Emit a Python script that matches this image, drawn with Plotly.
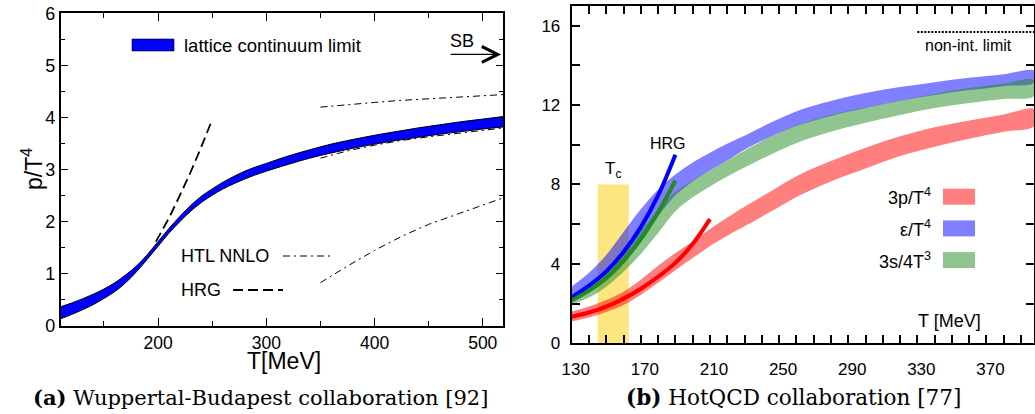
import plotly.graph_objects as go

W, H = 1035, 414

# ---------------- Panel (a): Wuppertal-Budapest ----------------
WB_T = [110, 120, 130, 140, 150, 160, 170, 180, 190, 200, 210, 220, 230, 240, 250,
        260, 270, 280, 290, 300, 320, 340, 360, 380, 400, 420, 440, 460, 480, 500, 519]
WB_LO = [0.14, 0.22, 0.31, 0.41, 0.53, 0.66, 0.83, 1.04, 1.28, 1.53, 1.78, 2.00, 2.20, 2.37, 2.51,
         2.63, 2.73, 2.82, 2.90, 2.97, 3.10, 3.22, 3.32, 3.41, 3.49, 3.56, 3.62, 3.68, 3.73, 3.78, 3.82]
WB_HI = [0.37, 0.44, 0.52, 0.61, 0.71, 0.83, 0.98, 1.15, 1.37, 1.62, 1.87, 2.10, 2.31, 2.49, 2.63,
         2.76, 2.87, 2.97, 3.05, 3.12, 3.26, 3.38, 3.49, 3.58, 3.66, 3.73, 3.80, 3.86, 3.92, 3.97, 4.02]

HRG_A_T = [198, 210, 220, 230, 240, 250]
HRG_A_P = [1.62, 2.07, 2.50, 2.95, 3.44, 3.96]

HTL_T = [350, 375, 400, 425, 450, 475, 500, 519]
HTL_UP = [4.20, 4.25, 4.29, 4.33, 4.36, 4.39, 4.42, 4.44]
HTL_MID = [3.22, 3.36, 3.47, 3.56, 3.63, 3.69, 3.75, 3.80]
HTL_LOW = [0.83, 1.15, 1.45, 1.72, 1.95, 2.14, 2.32, 2.46]

SB_LEVEL = 5.21
SB_ARROW_T = [469, 517]

# ---------------- Panel (b): HotQCD ----------------
HQ_T = [130, 140, 150, 160, 170, 180, 190, 200, 210, 220, 230, 245, 262, 280, 300, 320, 340, 360, 380, 397.5]
P_LO = [1.10, 1.30, 1.58, 1.93, 2.45, 3.05, 3.68, 4.29, 4.90, 5.42, 5.89, 6.62, 7.45, 8.15, 8.80, 9.43, 9.90, 10.30, 10.65, 10.94]
P_HI = [1.60, 1.85, 2.18, 2.60, 3.20, 3.90, 4.55, 5.13, 5.75, 6.33, 6.88, 7.65, 8.50, 9.18, 9.85, 10.43, 10.88, 11.22, 11.52, 11.78]
E_LO = [2.15, 2.65, 3.30, 4.15, 5.20, 6.40, 7.45, 8.15, 8.70, 9.20, 9.75, 10.40, 11.00, 11.45, 11.85, 12.20, 12.50, 12.75, 12.95, 13.13]
E_HI = [2.86, 3.55, 4.45, 5.60, 6.75, 7.75, 8.50, 9.10, 9.60, 10.05, 10.45, 11.10, 11.75, 12.20, 12.60, 12.90, 13.15, 13.37, 13.55, 13.72]
S_LO = [1.95, 2.30, 2.85, 3.60, 4.50, 5.55, 6.65, 7.35, 7.90, 8.40, 8.85, 9.50, 10.15, 10.65, 11.10, 11.50, 11.85, 12.10, 12.30, 12.45]
S_HI = [2.40, 2.90, 3.65, 4.60, 5.65, 6.70, 7.60, 8.20, 8.70, 9.20, 9.70, 10.40, 11.03, 11.50, 11.88, 12.22, 12.55, 12.85, 13.08, 13.26]

HRG_B_T = [130, 140, 150, 160, 170, 180, 190, 200, 210]
HRG_P = [1.34, 1.55, 1.85, 2.25, 2.75, 3.35, 4.05, 5.00, 6.25]
HRG_E = [2.32, 2.90, 3.62, 4.60, 5.85, 7.45, 9.50]
HRG_S = [2.15, 2.65, 3.28, 4.15, 5.25, 6.60, 8.20]

TC_RANGE = [145, 163]
TC_HEIGHT = 8
NONINT_LEVEL = 15.67
NONINT_T = [330, 397.5]

LEG_B = ["3p/T<sup>4</sup>", "ε/T<sup>4</sup>", "3s/4T<sup>3</sup>"]
LEG_B_COL = ["rgba(255,0,0,0.5)", "rgba(0,0,255,0.5)", "rgba(34,139,34,0.5)"]

SANS = "Liberation Sans, Arial, sans-serif"
SERIF = "DejaVu Serif, serif"


def pxx(x):
    return x / W


def pxy(y):
    return 1 - y / H


fig = go.Figure()

# ---- panel a traces
DASHDOT = "7px,4px,2px,4px"
for arr in (HTL_UP, HTL_MID, HTL_LOW):
    fig.add_trace(go.Scatter(x=HTL_T, y=arr, mode="lines", line=dict(color="black", width=1, dash=DASHDOT),
                             xaxis="x", yaxis="y", showlegend=False, hoverinfo="skip"))
fig.add_trace(go.Scatter(x=HRG_A_T, y=HRG_A_P, mode="lines", line=dict(color="black", width=1.8, dash="10px,5px"),
                         xaxis="x", yaxis="y", showlegend=False, hoverinfo="skip"))
fig.add_trace(go.Scatter(x=WB_T, y=WB_LO, mode="lines", line=dict(color="black", width=1, shape="spline"),
                         xaxis="x", yaxis="y", showlegend=False, hoverinfo="skip"))
fig.add_trace(go.Scatter(x=WB_T, y=WB_HI, mode="lines", line=dict(color="black", width=1, shape="spline"),
                         fill="tonexty", fillcolor="#0000ff", xaxis="x", yaxis="y", showlegend=False,
                         hoverinfo="skip"))

# ---- panel b traces
fig.add_trace(go.Scatter(x=[TC_RANGE[0], TC_RANGE[1], TC_RANGE[1], TC_RANGE[0]], y=[0, 0, TC_HEIGHT, TC_HEIGHT],
                         fill="toself", fillcolor="#fde681", line=dict(width=0), mode="lines",
                         xaxis="x2", yaxis="y2", showlegend=False, hoverinfo="skip"))
for lo, hi, col in [(P_LO, P_HI, LEG_B_COL[0]), (E_LO, E_HI, LEG_B_COL[1]), (S_LO, S_HI, LEG_B_COL[2])]:
    fig.add_trace(go.Scatter(x=HQ_T + HQ_T[::-1], y=hi + lo[::-1], fill="toself", fillcolor=col,
                             line=dict(width=0, shape="spline"), mode="lines", xaxis="x2", yaxis="y2",
                             showlegend=False, hoverinfo="skip"))
fig.add_trace(go.Scatter(x=HRG_B_T, y=HRG_P, mode="lines", line=dict(color="#ff0000", width=4, shape="spline"),
                         xaxis="x2", yaxis="y2", showlegend=False, hoverinfo="skip"))
fig.add_trace(go.Scatter(x=HRG_B_T[:len(HRG_E)], y=HRG_E, mode="lines",
                         line=dict(color="#0000ff", width=4, shape="spline"),
                         xaxis="x2", yaxis="y2", showlegend=False, hoverinfo="skip"))
fig.add_trace(go.Scatter(x=HRG_B_T[:len(HRG_S)], y=HRG_S, mode="lines",
                         line=dict(color="#228b22", width=4, shape="spline"),
                         xaxis="x2", yaxis="y2", showlegend=False, hoverinfo="skip"))
fig.add_trace(go.Scatter(x=NONINT_T, y=[NONINT_LEVEL, NONINT_LEVEL], mode="lines",
                         line=dict(color="black", width=2, dash="2px,1.5px"),
                         xaxis="x2", yaxis="y2", showlegend=False, hoverinfo="skip", cliponaxis=False))

ann = []
shapes = []


def text(x, y, s, size, family=SANS, xanchor="center", yanchor="middle", **kw):
    ann.append(dict(x=pxx(x), y=pxy(y), xref="paper", yref="paper", text=s, showarrow=False,
                    xanchor=xanchor, yanchor=yanchor, font=dict(family=family, size=size, color="black"), **kw))


# panel a decorations
ann.append(dict(x=SB_ARROW_T[1], y=SB_LEVEL, ax=SB_ARROW_T[0], ay=SB_LEVEL, xref="x", yref="y", axref="x", ayref="y",
                showarrow=True, arrowhead=5, arrowsize=2.4, arrowwidth=1.3, arrowcolor="black", text=""))
text(462, 41, "SB", 18)
shapes.append(dict(type="rect", xref="paper", yref="paper", x0=pxx(132), x1=pxx(174), y0=pxy(51), y1=pxy(39),
                   fillcolor="#0000ff", line=dict(color="black", width=0.6)))
text(182, 45, "lattice continuum limit", 18.5, xanchor="left")
text(179, 256, "HTL NNLO", 18, xanchor="left")
shapes.append(dict(type="line", xref="paper", yref="paper", x0=pxx(283), x1=pxx(333), y0=pxy(256), y1=pxy(256),
                   line=dict(color="black", width=1, dash=DASHDOT)))
text(179, 290, "HRG", 18, xanchor="left")
shapes.append(dict(type="line", xref="paper", yref="paper", x0=pxx(233), x1=pxx(283), y0=pxy(290), y1=pxy(290),
                   line=dict(color="black", width=1.8, dash="10px,5px")))
text(32, 169, "p/T<sup>4</sup>", 23, textangle=-90)
text(284, 361, "T[MeV]", 23)
text(260, 397, "<b>(a)</b> Wuppertal-Budapest collaboration [92]", 21, family=SERIF)

# panel b decorations
ann.append(dict(x=sum(TC_RANGE) / 2, y=TC_HEIGHT, xref="x2", yref="y2", text="T<sub>c</sub>", showarrow=False,
                xanchor="center", yanchor="bottom", yshift=1, font=dict(family=SANS, size=17, color="black")))
ann.append(dict(x=HRG_B_T[len(HRG_E) - 1] - 4.5, y=HRG_E[-1] + 0.55, xref="x2", yref="y2", text="HRG",
                xanchor="center", yanchor="middle", showarrow=False, font=dict(family=SANS, size=16, color="black")))
text(968, 45, "non-int. limit", 16)
text(949, 321, "T [MeV]", 18)
for i, (lab, col) in enumerate(zip(LEG_B, LEG_B_COL)):
    yc = 196.7 + i * 31.7
    text(933, yc, lab, 18, xanchor="right")
    shapes.append(dict(type="rect", xref="paper", yref="paper", x0=pxx(943), x1=pxx(975),
                       y0=pxy(yc + 8), y1=pxy(yc - 8), fillcolor=col, line=dict(width=0)))
text(793, 397, "<b>(b)</b> HotQCD collaboration [77]", 21.5, family=SERIF)

axcommon = dict(showgrid=False, zeroline=False, showline=True, linecolor="black", mirror="ticks",
                ticks="inside", tickcolor="black", automargin=False)

fig.update_layout(
    template="none",
    width=W, height=H, margin=dict(l=0, r=0, t=0, b=0, pad=0, autoexpand=False),
    paper_bgcolor="white", plot_bgcolor="white", showlegend=False,
    font=dict(family=SANS, color="black"),
    xaxis=dict(domain=[pxx(60.7), pxx(503.3)], range=[110, 519], anchor="y",
               tick0=0, dtick=100, ticklen=8, tickwidth=1.2, linewidth=1.5,
               minor=dict(dtick=50, ticks="inside", ticklen=5, tickcolor="black", tickwidth=1.2, showgrid=False),
               tickfont=dict(family=SANS, size=17.5, color="black"), **axcommon),
    yaxis=dict(domain=[pxy(326), pxy(13.3)], range=[0, 6], anchor="x",
               tick0=0, dtick=1, ticklen=8, tickwidth=1.2, linewidth=1.5,
               minor=dict(dtick=0.5, ticks="inside", ticklen=5, tickcolor="black", tickwidth=1.2, showgrid=False),
               tickfont=dict(family=SANS, size=18, color="black"), **axcommon),
    xaxis2=dict(domain=[pxx(571.7), pxx(1034)], range=[130, 397.5], anchor="y2",
                tick0=130, dtick=40, ticklen=8, tickwidth=1.5, linewidth=2, ticklabelshift=4,
                ticklabelstandoff=9,
                minor=dict(dtick=10, ticks="inside", ticklen=8, tickcolor="black", tickwidth=1.5, showgrid=False),
                tickfont=dict(family=SANS, size=17, color="black"), **axcommon),
    yaxis2=dict(domain=[pxy(343.3), pxy(5.7)], range=[0, 17], anchor="x2",
                tick0=0, dtick=4, ticklen=8, tickwidth=1.5, linewidth=2, ticklabelstandoff=6,
                minor=dict(dtick=2, ticks="inside", ticklen=8, tickcolor="black", tickwidth=1.5, showgrid=False),
                tickfont=dict(family=SANS, size=17, color="black"), **axcommon),
    annotations=ann, shapes=shapes,
)

fig.write_html("out.html")
